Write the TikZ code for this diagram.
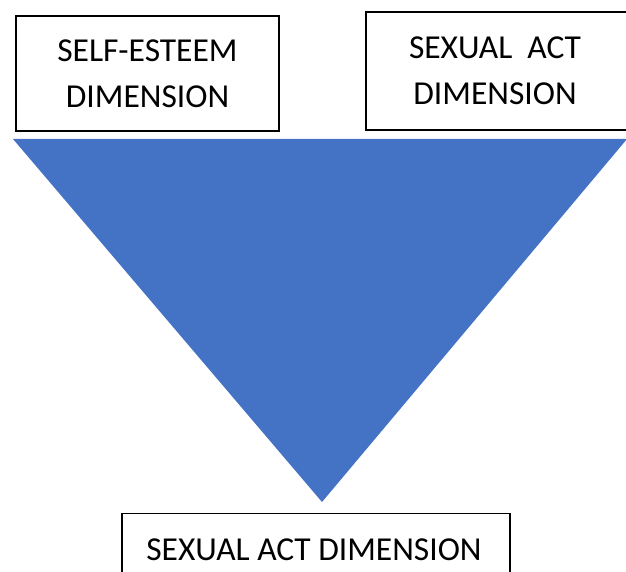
\documentclass[tikz,border=0pt]{standalone}
\usepackage{fontspec}
\setmainfont{Carlito}
\definecolor{triblue}{HTML}{4472C4}

\begin{document}
\begin{tikzpicture}[x=1pt, y=-1pt,
  dimbox/.style={draw, line width=1.2pt, fill=white, align=center,
    inner sep=0pt, font=\fontsize{33.5}{46}\selectfont}]

\useasboundingbox (0,0) rectangle (626,572);
\clip (0,0) rectangle (626,572);

\fill[triblue] (13,139) -- (627,139) -- (322,502) -- cycle;

\node[dimbox, minimum width=263pt, minimum height=115pt] (selfesteem) at (147.5,73.5) {SELF-ESTEEM\\DIMENSION};
\node[dimbox, minimum width=272pt, minimum height=118pt] (sexright) at (502,71) {\hspace*{-14pt}SEXUAL\ \ ACT\\\hspace*{-14pt}DIMENSION};
\node[dimbox, minimum width=388pt, minimum height=80pt, anchor=north] (sexbottom) at (316,513) {};
\node[font=\fontsize{33.5}{40}\selectfont, anchor=base] (sexlabel) at (314,560) {SEXUAL ACT DIMENSION};

\end{tikzpicture}
\end{document}
